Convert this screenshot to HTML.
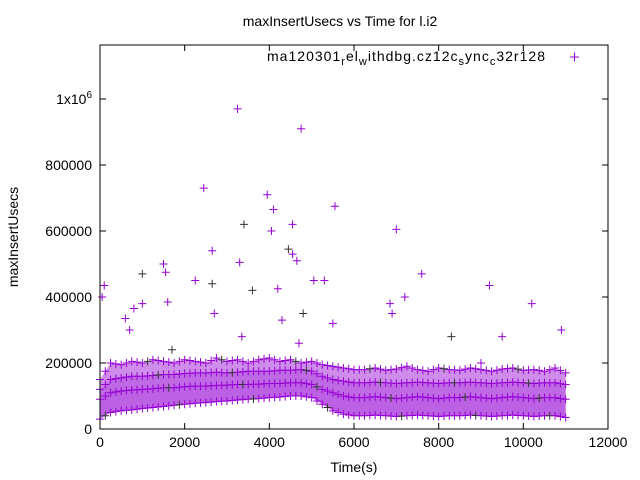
<!DOCTYPE html>
<html><head><meta charset="utf-8"><style>
body{margin:0;background:#fff}
svg{display:block;font-family:"Liberation Sans",sans-serif}
</style></head><body>
<svg id="chart" width="640" height="480">
<rect x="0" y="0" width="640" height="480" fill="#fff"/>
<text x="340" y="26" font-size="14" text-anchor="middle">maxInsertUsecs vs Time for l.i2</text>
<text x="0" y="0" font-size="14" text-anchor="middle" transform="translate(18,237) rotate(-90)">maxInsertUsecs</text>
<text x="354" y="472" font-size="14" text-anchor="middle">Time(s)</text>
<g id="ticks"></g>
<g id="marks"></g>
<rect x="100" y="45" width="508" height="384" fill="none" stroke="#000" stroke-width="1"/>
<text x="267" y="61" font-size="14" textLength="278" lengthAdjust="spacing">ma120301<tspan font-size="11" dy="4">r</tspan><tspan dy="-4">el</tspan><tspan font-size="11" dy="4">w</tspan><tspan dy="-4">ithdbg.cz12c</tspan><tspan font-size="11" dy="4">s</tspan><tspan dy="-4">ync</tspan><tspan font-size="11" dy="4">c</tspan><tspan dy="-4">32r128</tspan></text>
<g stroke="#9400d3" stroke-width="1"><line x1="570" y1="57" x2="579" y2="57"/><line x1="574.5" y1="52.5" x2="574.5" y2="61.5"/></g>
</svg>
<script>
const times=[0,250,500,750,1000,1250,1500,1750,2000,2250,2500,2750,3000,3250,3500,3750,4000,4250,4500,4750,5000,5250,5500,5750,6000,6250,6500,6750,7000,7250,7500,7750,8000,8250,8500,8750,9000,9250,9500,9750,10000,10250,10500,10750,11000];
const bandLow=[30,50,55,58,62,65,68,72,75,78,80,83,85,88,90,92,95,97,100,100,95,75,55,45,40,40,42,40,38,40,42,40,38,40,40,42,40,38,40,42,40,38,40,40,35];
const bandMid=[90,110,115,118,120,122,125,125,128,130,130,132,133,135,135,136,138,138,140,140,135,120,110,100,95,95,98,95,92,95,98,95,92,95,95,98,95,92,95,98,95,92,95,95,90];
const bandUpper=[120,150,155,160,160,162,165,165,168,170,170,172,170,172,175,175,175,178,178,180,175,160,150,145,140,140,142,140,138,140,142,140,138,140,140,142,140,138,140,142,140,138,140,140,135];
const bandHigh=[150,200,195,205,200,210,205,200,210,205,200,215,205,210,200,210,215,205,210,200,205,195,190,185,180,180,185,178,182,190,180,175,185,180,178,185,180,175,182,185,178,180,175,185,170];
const outT=[3250,4750,2450,3950,4100,3400,5550,4550,4050,7000,2650,4450,4550,4650,3300,1500,7600,1000,2250,100,9200,5050,5300,3600,10200,6850,7200,4200,1550,2650,50,1600,600,800,1000,4800,4300,5500,2700,10900,9500,8300,6900,9000,700,3350,4700,1700];
const outV=[970,910,730,710,665,620,675,620,600,605,540,545,530,510,505,500,470,470,450,435,435,450,450,420,380,380,400,425,475,440,400,385,335,365,380,350,330,320,350,300,280,280,350,200,300,280,260,240];
const xTicks=[0,2000,4000,6000,8000,10000,12000];
const yTicks=[0,200000,400000,600000,800000];
const X=t=>100+t*508/12000;
const Y=v=>429-v*0.00033;
const NS="http://www.w3.org/2000/svg";
const tg=document.getElementById('ticks'), mg=document.getElementById('marks');
function mk(tag,attrs,parent){const e=document.createElementNS(NS,tag);for(const k in attrs)e.setAttribute(k,attrs[k]);parent.appendChild(e);return e;}
xTicks.forEach(t=>{
  const l=mk('line',{x1:X(t),x2:X(t),y1:429,y2:423,stroke:'#000'},tg);
  
  
  const l2=mk('line',{x1:X(t),x2:X(t),y1:45,y2:51,stroke:'#000'},tg);
  
  
  const tx=mk('text',{x:X(t),y:447,'font-size':14,'text-anchor':'middle'},tg);tx.textContent=t;
  
  
});
yTicks.concat([1000000]).forEach(v=>{
  const l=mk('line',{x1:100,x2:106,y1:Y(v),y2:Y(v),stroke:'#000'},tg);
  
  
  const l2=mk('line',{x1:602,x2:608,y1:Y(v),y2:Y(v),stroke:'#000'},tg);
  
  
  const tx=mk('text',{x:92,y:Y(v)+5,'font-size':14,'text-anchor':'end'},tg);
  if(v===1000000){tx.innerHTML='1x10<tspan font-size="10" dy="-6">6</tspan>';}else tx.textContent=v;
  
  
});
function area(lo,hi,op){
  let d='M'+times.map((t,i)=>X(t)+','+Y(hi[i]*1000)).join('L');
  for(let i=times.length-1;i>=0;i--)d+='L'+X(times[i])+','+Y(lo[i]*1000);
  const p=mk('path',{d:d+'Z',fill:'#9400d3','fill-opacity':op},mg);
  
  
}
area(bandLow,bandHigh,0.45);
area(bandLow,bandMid,0.3);
area(bandMid,bandUpper,0.25);
function plus(t,v,c){
  const x=X(t),y=Y(v*1000);
  const g=mk('path',{d:`M${x-4},${y}H${x+4}M${x},${y-4}V${y+4}`,stroke:c,'stroke-width':1,fill:'none'},mg);
  
  
}
[bandLow,bandMid,bandUpper,bandHigh].forEach((arr,k)=>times.forEach((t,i)=>{
  plus(t,arr[i],'#9400d3');
  if(i<times.length-1) plus(t+125,(arr[i]+arr[i+1])/2,(k+i)%7===0?'#333':'#9400d3');
}));
outT.forEach((t,i)=>plus(t,outV[i],i%6===5?'#333':'#9400d3'));
</script>
</body></html>
